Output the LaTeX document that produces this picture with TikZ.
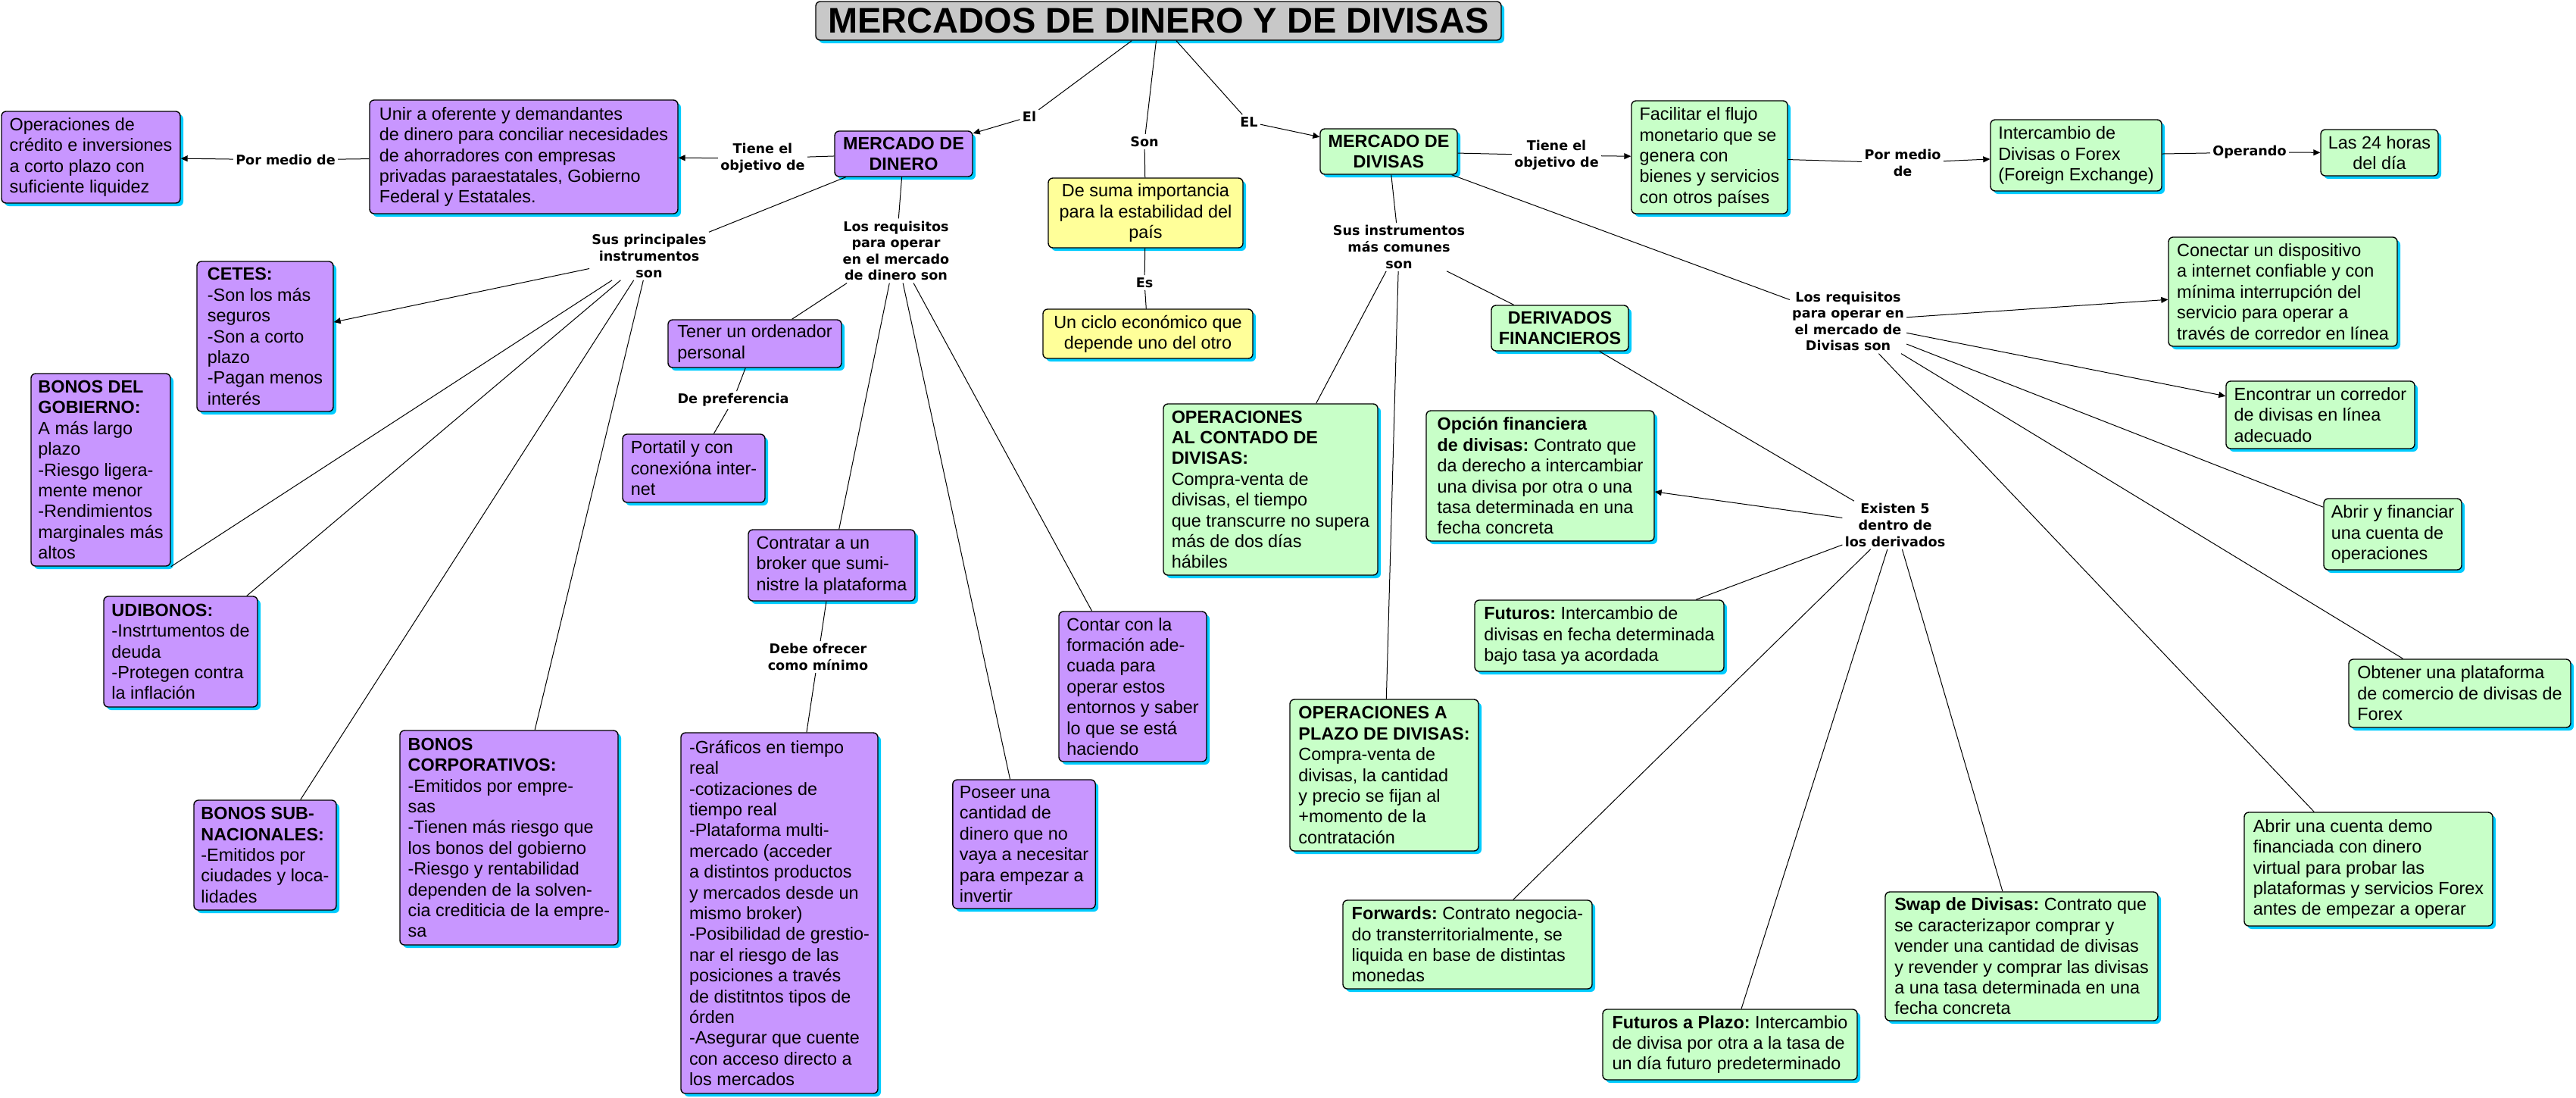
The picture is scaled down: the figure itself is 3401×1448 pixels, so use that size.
\documentclass[tikz,border=0pt]{standalone}
\usepackage{fontspec}
\setmainfont{Liberation Sans}
\newfontfamily\linkfam{DejaVu Sans}
\usetikzlibrary{arrows.meta,shadows}
\definecolor{mapgray}{RGB}{200,200,200}
\definecolor{mappurple}{RGB}{200,150,255}
\definecolor{mapgreen}{RGB}{200,255,200}
\definecolor{mapyellow}{RGB}{255,255,153}
\definecolor{mapshadow}{RGB}{0,204,255}
\newcommand{\boxfont}{\frenchspacing\fontsize{11.7}{13.7}\selectfont}
\newcommand{\linkfont}{\linkfam\bfseries\fontsize{8.8}{10.8}\selectfont}
\newcommand{\titlefont}{\fontsize{23.5}{28}\selectfont\bfseries}

\begin{document}
\begin{tikzpicture}[x=0.5pt,y=-0.5pt,
    cbox/.style={draw, rounded corners=3pt, line width=0.7pt, align=left,
      inner xsep=4.5pt, inner ysep=3pt, font=\boxfont,
      drop shadow={shadow xshift=2pt, shadow yshift=-2pt, fill=mapshadow, opacity=1}},
    dinero/.style={cbox, fill=mappurple},
    divisas/.style={cbox, fill=mapgreen},
    nexo/.style={cbox, fill=mapyellow, align=center},
    bx/.style 2 args={minimum width=#1*0.5pt, minimum height=#2*0.5pt},
    link/.style={font=\linkfont, align=center, inner sep=1.5pt},
    con/.style={line width=0.5pt},
    arr/.style={con, -{Triangle[length=4.5pt,width=4pt]}}]
  \useasboundingbox (0,0) rectangle (3401,1448);

  % titulo
  \node[cbox, fill=mapgray, bx={905}{51}, align=center, font=\titlefont] (title) at (1529.5,27.5) {MERCADOS DE DINERO Y DE DIVISAS};

  % mercado de dinero
  \node[dinero, bx={182}{60}, align=center] (mdd) at (1193,203) {\textbf{MERCADO DE}\\\textbf{DINERO}};
  \node[dinero, bx={407}{150}] (unir) at (691.5,207) {Unir a oferente y demandantes\\de dinero para conciliar necesidades\\de ahorradores con empresas\\privadas paraestatales, Gobierno\\Federal y Estatales.};
  \node[dinero, bx={236}{121}] (ops) at (120,207.5) {Operaciones de\\crédito e inversiones\\a corto plazo con\\suficiente liquidez};
  \node[dinero, bx={180}{198}] (cetes) at (350,444) {\textbf{CETES:}\\-Son los más\\seguros\\-Son a corto\\plazo\\-Pagan menos\\interés};
  \node[dinero, bx={184}{254}] (bdg) at (133,620) {\textbf{BONOS DEL}\\\textbf{GOBIERNO:}\\A más largo\\plazo\\-Riesgo ligera-\\mente menor\\-Rendimientos\\marginales más\\altos};
  \node[dinero, bx={203}{146}] (udi) at (238.5,860) {\textbf{UDIBONOS:}\\-Instrtumentos de\\deuda\\-Protegen contra\\la inflación};
  \node[dinero, bx={188}{145}] (bsub) at (350,1128.5) {\textbf{BONOS SUB-}\\\textbf{NACIONALES:}\\-Emitidos por\\ciudades y loca-\\lidades};
  \node[dinero, bx={288}{283}] (bcorp) at (672,1105.5) {\textbf{BONOS}\\\textbf{CORPORATIVOS:}\\-Emitidos por empre-\\sas\\-Tienen más riesgo que\\los bonos del gobierno\\-Riesgo y rentabilidad\\dependen de la solven-\\cia crediticia de la empre-\\sa};
  \node[dinero, bx={229}{63}] (tener) at (996.5,453.5) {Tener un ordenador\\personal};
  \node[dinero, bx={188}{90}] (portatil) at (916,618) {Portatil y con\\conexióna inter-\\net};
  \node[dinero, bx={220}{94}] (contratar) at (1098,746) {Contratar a un\\broker que sumi-\\nistre la plataforma};
  \node[dinero, bx={260}{476}] (graficos) at (1029,1205) {-Gráficos en tiempo\\real\\-cotizaciones de\\tiempo real\\-Plataforma multi-\\mercado (acceder\\a distintos productos\\y mercados desde un\\mismo broker)\\-Posibilidad de grestio-\\nar el riesgo de las\\posiciones a través\\de distitntos tipos de\\órden\\-Asegurar que cuente\\con acceso directo a\\los mercados};
  \node[dinero, bx={188}{170}] (poseer) at (1352,1114) {Poseer una\\cantidad de\\dinero que no\\vaya a necesitar\\para empezar a\\invertir};
  \node[dinero, bx={195}{198}] (contar) at (1495.5,906) {Contar con la\\formación ade-\\cuada para\\operar estos\\entornos y saber\\lo que se está\\haciendo};

  % en general
  \node[nexo, bx={257}{92}] (suma) at (1512.5,281) {De suma importancia\\para la estabilidad del\\país};
  \node[nexo, bx={277}{65}] (ciclo) at (1515.5,440.5) {Un ciclo económico que\\depende uno del otro};

  % mercado de divisas
  \node[divisas, bx={181}{60}, align=center] (mdv) at (1833.5,200) {\textbf{MERCADO DE}\\\textbf{DIVISAS}};
  \node[divisas, bx={206}{149}] (facil) at (2257,207.5) {Facilitar el flujo\\monetario que se\\genera con\\bienes y servicios\\con otros países};
  \node[divisas, bx={226}{94}] (inter) at (2741,205) {Intercambio de\\Divisas o Forex\\(Foreign Exchange)};
  \node[divisas, bx={155}{61}, align=center] (las24) at (3141.5,201.5) {Las 24 horas\\del día};
  \node[divisas, bx={283}{226}] (contado) at (1677.5,646) {\textbf{OPERACIONES}\\\textbf{AL CONTADO DE}\\\textbf{DIVISAS:}\\Compra-venta de\\divisas, el tiempo\\que transcurre no supera\\más de dos días\\hábiles};
  \node[divisas, bx={249}{200}] (plazo) at (1827.5,1023) {\textbf{OPERACIONES A}\\\textbf{PLAZO DE DIVISAS:}\\Compra-venta de\\divisas, la cantidad\\y precio se fijan al\\+momento de la\\contratación};
  \node[divisas, bx={181}{60}, align=center] (deriv) at (2059.5,433) {\textbf{DERIVADOS}\\\textbf{FINANCIEROS}};
  \node[divisas, bx={301}{172}] (opcion) at (2033.5,628) {\textbf{Opción financiera}\\\textbf{de divisas:} Contrato que\\da derecho a intercambiar\\una divisa por otra o una\\tasa determinada en una\\fecha concreta};
  \node[divisas, bx={329}{94}] (futuros) at (2111.5,839) {\textbf{Futuros:} Intercambio de\\divisas en fecha determinada\\bajo tasa ya acordada};
  \node[divisas, bx={329}{117}] (forwards) at (1937.5,1246.5) {\textbf{Forwards:} Contrato negocia-\\do transterritorialmente, se\\liquida en base de distintas\\monedas};
  \node[divisas, bx={336}{93}] (futplazo) at (2284,1378.5) {\textbf{Futuros a Plazo:} Intercambio\\de divisa por otra a la tasa de\\un día futuro predeterminado};
  \node[divisas, bx={360}{170}] (swap) at (2669,1262) {\textbf{Swap de Divisas:} Contrato que\\se caracterizapor comprar y\\vender una cantidad de divisas\\y revender y comprar las divisas\\a una tasa determinada en una\\fecha concreta};
  \node[divisas, bx={302}{144}] (conectar) at (3014,385) {Conectar un dispositivo\\a internet confiable y con\\mínima interrupción del\\servicio para operar a\\través de corredor en línea};
  \node[divisas, bx={249}{89}] (encontrar) at (3063.5,547.5) {Encontrar un corredor\\de divisas en línea\\adecuado};
  \node[divisas, bx={182}{94}] (abrirfin) at (3159,705) {Abrir y financiar\\una cuenta de\\operaciones};
  \node[divisas, bx={293}{90}] (obtener) at (3247.5,915) {Obtener una plataforma\\de comercio de divisas de\\Forex};
  \node[divisas, bx={328}{150}] (demo) at (3127,1147) {Abrir una cuenta demo\\financiada con dinero\\virtual para probar las\\plataformas y servicios Forex\\antes de empezar a operar};

  % frases de enlace
  \node[link] (lblEl) at (1359,154) {El};
  \node[link] (lblSon) at (1511,187) {Son};
  \node[link] (lblEL) at (1649,161) {EL};
  \node[link] (lblEs) at (1511,373) {Es};
  \node[link] (lblTiene1) at (1007,209) {Tiene el\\objetivo de};
  \node[link] (lblPor1) at (377,211) {Por medio de};
  \node[link] (lblSus) at (857,338) {Sus principales\\instrumentos\\son};
  \node[link] (lblReq1) at (1183,331) {Los requisitos\\para operar\\en el mercado\\de dinero son};
  \node[link] (lblPref) at (968,528) {De preferencia};
  \node[link] (lblDebe) at (1080,867) {Debe ofrecer\\como mínimo};
  \node[link] (lblTiene2) at (2055,205) {Tiene el\\objetivo de};
  \node[link] (lblPor2) at (2512,215) {Por medio\\de};
  \node[link] (lblOper) at (2970,201) {Operando};
  \node[link] (lblSusI) at (1847,326) {Sus instrumentos\\más comunes\\son};
  \node[link] (lblReq2) at (2440,424) {Los requisitos\\para operar en\\el mercado de\\Divisas son};
  \node[link] (lblExist) at (2502,693) {Existen 5\\dentro de\\los derivados};

  % conectores
  \draw[con] (title) -- (lblEl);
  \draw[arr] (lblEl) -- (mdd);
  \draw[con] (title) -- (lblSon);
  \draw[con] (lblSon) -- (suma);
  \draw[con] (suma) -- (lblEs);
  \draw[con] (lblEs) -- (ciclo);
  \draw[con] (title) -- (lblEL);
  \draw[arr] (lblEL) -- (mdv);

  \draw[con] (mdd) -- (lblTiene1);
  \draw[arr] (lblTiene1) -- (unir);
  \draw[con] (unir) -- (lblPor1);
  \draw[arr] (lblPor1) -- (ops);
  \draw[con] (mdd) -- (lblSus);
  \draw[arr] (lblSus) -- (cetes);
  \foreach \t in {bdg.south east, udi, bsub, bcorp}
    \draw[con] (lblSus) -- (\t);
  \draw[con] (mdd) -- (lblReq1);
  \foreach \t in {tener, contratar, poseer, contar}
    \draw[con] (lblReq1) -- (\t);
  \draw[con] (tener) -- (lblPref);
  \draw[con] (lblPref) -- (portatil);
  \draw[con] (contratar) -- (lblDebe);
  \draw[con] (lblDebe) -- (graficos);

  \draw[con] (mdv) -- (lblTiene2);
  \draw[arr] (lblTiene2) -- (facil);
  \draw[con] (facil) -- (lblPor2);
  \draw[arr] (lblPor2) -- (inter);
  \draw[con] (inter) -- (lblOper);
  \draw[arr] (lblOper) -- (las24);
  \draw[con] (mdv) -- (lblSusI);
  \foreach \t in {contado, plazo, deriv}
    \draw[con] (lblSusI) -- (\t);
  \draw[con] (deriv) -- (lblExist);
  \draw[arr] (lblExist) -- (opcion);
  \foreach \t in {futuros, forwards, futplazo, swap}
    \draw[con] (lblExist) -- (\t);
  \draw[con] (mdv) -- (lblReq2);
  \draw[arr] (lblReq2) -- (conectar);
  \draw[arr] (lblReq2) -- (encontrar);
  \foreach \t in {abrirfin, obtener, demo}
    \draw[con] (lblReq2) -- (\t);
\end{tikzpicture}
\end{document}
